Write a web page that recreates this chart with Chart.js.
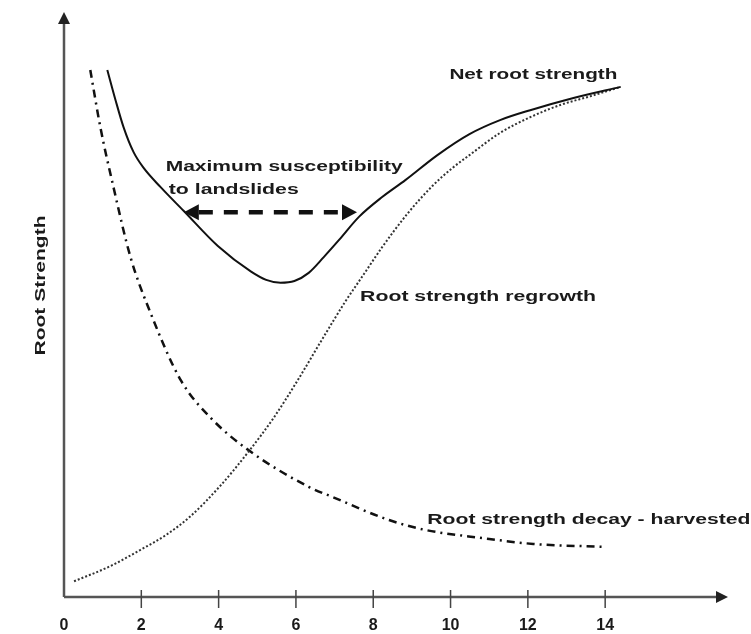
<!DOCTYPE html>
<html><head><meta charset="utf-8">
<script src="https://cdn.jsdelivr.net/npm/chart.js@4"></script>
<style>html,body{margin:0;padding:0;background:#fff}</style>
</head><body>
<canvas id="c" width="751" height="634"></canvas>
<script>
// ---- data ----
const xTicks = [0, 2, 4, 6, 8, 10, 12, 14];

const netX = [1.12, 1.33, 1.54, 1.80, 2.06, 2.50, 3.10, 3.98, 4.84, 5.23, 5.60, 5.96, 6.33, 6.72, 7.11, 7.63, 8.23, 8.83, 9.66, 10.49, 11.28, 12.06, 13.18, 14.40];
const netY = [90.4, 85.3, 80.6, 76.3, 73.6, 70.3, 66.2, 60.2, 55.8, 54.4, 53.9, 54.2, 55.6, 58.3, 61.2, 65.2, 68.6, 71.5, 75.8, 79.4, 81.8, 83.5, 85.6, 87.5];

const regrowX = [0.26, 1.20, 1.98, 2.63, 3.28, 4.06, 4.77, 5.42, 6.02, 6.67, 7.27, 7.76, 8.23, 8.88, 9.53, 10.05, 10.49, 11.28, 12.06, 12.84, 13.62, 14.40];
const regrowY = [2.7, 5.3, 8.1, 10.6, 13.9, 19.2, 24.9, 30.7, 36.9, 44.1, 50.6, 55.4, 60.0, 65.7, 70.5, 73.6, 75.8, 79.6, 82.3, 84.4, 85.9, 87.5];

const decayX = [0.68, 0.94, 1.28, 1.72, 2.24, 3.02, 3.80, 4.77, 6.33, 6.93, 8.41, 9.35, 10.83, 12.14, 13.96];
const decayY = [90.4, 80.6, 70.3, 58.3, 48.7, 37.2, 30.7, 25.2, 18.9, 17.2, 13.2, 11.5, 10.1, 9.1, 8.6];

const labelTexts = ["Net root strength", "Maximum susceptibility", "to landslides", "Root strength regrowth", "Root strength decay - harvested"];
const labelX = [9.97, 2.63, 2.71, 7.66, 9.40];
const labelY = [89.5, 73.8, 69.8, 51.5, 13.2];
const labelW = [168, 237, 130, 236, 323];

const arrowX = [3.10, 7.58];
const arrowY = 66.0;
const yTitle = "Root Strength";

// ---- build ----
const pts = (xs, ys) => xs.map((x, i) => ({x, y: ys[i]}));
const FONT = '"Liberation Sans", Arial, Helvetica, sans-serif';

function fitText(ctx, txt, x, y, w, size) {
  ctx.font = `bold ${size}px ${FONT}`;
  const m = ctx.measureText(txt).width;
  ctx.save();
  ctx.translate(x, y);
  ctx.scale(w / m, 1);
  ctx.textBaseline = 'middle';
  ctx.textAlign = 'left';
  ctx.fillText(txt, 0, 0);
  ctx.restore();
}

const decor = {
  id: 'decor',
  afterDraw(chart) {
    const ctx = chart.ctx, xs = chart.scales.x, ys = chart.scales.y, ca = chart.chartArea;
    const x0 = xs.getPixelForValue(0), y0 = ys.getPixelForValue(0);
    ctx.save();
    // axes
    ctx.strokeStyle = '#555'; ctx.fillStyle = '#222'; ctx.lineWidth = 2.5;
    ctx.beginPath(); ctx.moveTo(x0, y0); ctx.lineTo(x0, ca.top + 8); ctx.stroke();
    ctx.beginPath(); ctx.moveTo(x0, y0); ctx.lineTo(ca.right - 6, y0); ctx.stroke();
    // arrowheads
    ctx.beginPath(); ctx.moveTo(x0, ca.top - 2); ctx.lineTo(x0 - 6, ca.top + 10); ctx.lineTo(x0 + 6, ca.top + 10); ctx.closePath(); ctx.fill();
    ctx.beginPath(); ctx.moveTo(ca.right + 3, y0); ctx.lineTo(ca.right - 9, y0 - 6); ctx.lineTo(ca.right - 9, y0 + 6); ctx.closePath(); ctx.fill();
    // tick marks
    ctx.strokeStyle = '#444'; ctx.lineWidth = 1.5;
    xTicks.slice(1).forEach(v => {
      const px = xs.getPixelForValue(v);
      ctx.beginPath(); ctx.moveTo(px, y0 - 7); ctx.lineTo(px, y0 + 11); ctx.stroke();
    });
    // texts
    ctx.fillStyle = '#1a1a1a';
    labelTexts.forEach((t, i) => fitText(ctx, t, xs.getPixelForValue(labelX[i]), ys.getPixelForValue(labelY[i]), labelW[i], 15));
    // y title
    ctx.save();
    ctx.translate(41, (ys.getPixelForValue(0) + ys.getPixelForValue(100)) / 2 - 20);
    ctx.rotate(-Math.PI / 2);
    ctx.font = `bold 15px ${FONT}`;
    const m = ctx.measureText(yTitle).width;
    ctx.scale(140 / m, 1);
    ctx.textAlign = 'center'; ctx.textBaseline = 'middle';
    ctx.fillText(yTitle, 0, 0);
    ctx.restore();
    // double arrow
    const ax1 = xs.getPixelForValue(arrowX[0]), ax2 = xs.getPixelForValue(arrowX[1]), ay = ys.getPixelForValue(arrowY);
    ctx.fillStyle = '#111';
    ctx.beginPath(); ctx.moveTo(ax1, ay); ctx.lineTo(ax1 + 15, ay - 8); ctx.lineTo(ax1 + 15, ay + 8); ctx.closePath(); ctx.fill();
    ctx.beginPath(); ctx.moveTo(ax2, ay); ctx.lineTo(ax2 - 15, ay - 8); ctx.lineTo(ax2 - 15, ay + 8); ctx.closePath(); ctx.fill();
    ctx.strokeStyle = '#111'; ctx.lineWidth = 4.5; ctx.setLineDash([14, 11]);
    ctx.beginPath(); ctx.moveTo(ax1 + 15, ay); ctx.lineTo(ax2 - 15, ay); ctx.stroke();
    ctx.restore();
  }
};

new Chart(document.getElementById('c'), {
  type: 'line',
  data: {
    datasets: [
      { label: 'Net root strength', data: pts(netX, netY), borderColor: '#111', borderWidth: 2, pointRadius: 0, cubicInterpolationMode: 'monotone', fill: false },
      { label: 'Root strength regrowth', data: pts(regrowX, regrowY), borderColor: '#333', borderWidth: 2, borderDash: [2, 2], pointRadius: 0, cubicInterpolationMode: 'monotone', fill: false },
      { label: 'Root strength decay - harvested', data: pts(decayX, decayY), borderColor: '#111', borderWidth: 2.5, borderDash: [8, 5, 2, 5], pointRadius: 0, cubicInterpolationMode: 'monotone', fill: false }
    ]
  },
  options: {
    responsive: false, animation: false, devicePixelRatio: 1,
    layout: { padding: { top: 14, right: 26, left: 0, bottom: 0 } },
    plugins: { legend: { display: false }, tooltip: { enabled: false } },
    scales: {
      x: {
        type: 'linear', min: 0, max: 17.1,
        ticks: { stepSize: 2, autoSkip: false, maxRotation: 0, padding: 11, color: '#1a1a1a',
          font: { family: FONT, weight: 'bold', size: 16 },
          callback: v => xTicks.includes(v) ? String(v) : '' },
        grid: { display: false }, border: { display: false },
        afterFit: s => { s.height = 37; }
      },
      y: {
        type: 'linear', min: 0, max: 100,
        ticks: { display: false }, grid: { display: false }, border: { display: false },
        afterFit: s => { s.width = 64; }
      }
    }
  },
  plugins: [decor]
});
</script>
</body></html>
